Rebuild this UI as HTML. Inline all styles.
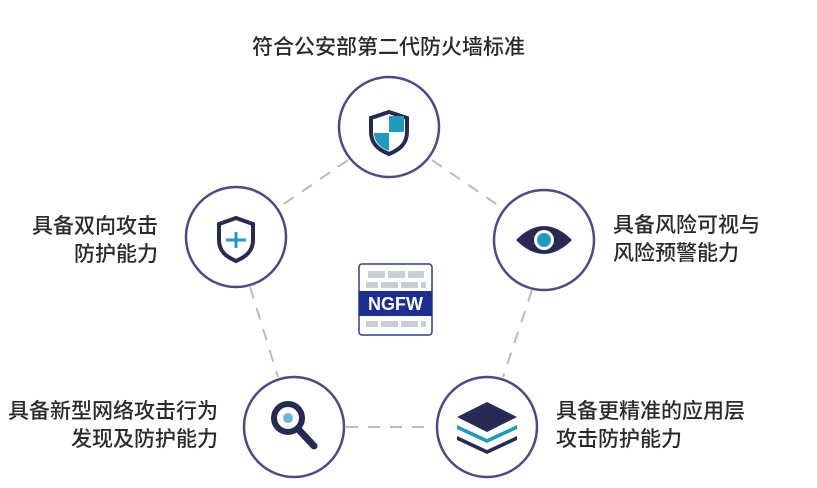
<!DOCTYPE html>
<html><head><meta charset="utf-8"><style>
body{margin:0;width:817px;height:488px;background:#fff;overflow:hidden;position:relative;font-family:"Liberation Sans","Noto Sans CJK SC",sans-serif;color:#2a2a2a}
.t{position:absolute;font-size:21px;line-height:28px;white-space:nowrap;font-weight:500}
</style></head><body>
<svg width="817" height="488" style="position:absolute;left:0;top:0">
<g stroke="#bbb" stroke-width="2" stroke-dasharray="12 10" fill="none">
<line x1="348" y1="160" x2="278" y2="208"/>
<line x1="432" y1="160" x2="502" y2="208"/>
<line x1="250" y1="287" x2="278" y2="377"/>
<line x1="532" y1="290" x2="503" y2="377"/>
<line x1="346" y1="427" x2="434" y2="427"/>
</g>
<g fill="#fff" stroke="#4a4a8a" stroke-width="2.5">
<circle cx="389" cy="127" r="50"/>
<circle cx="236" cy="237" r="50"/>
<circle cx="544" cy="240" r="50"/>
<circle cx="294" cy="427" r="50"/>
<circle cx="487" cy="427" r="50"/>
</g>
<path d="M389 112 l18 6 v14 c0 12 -8 18 -18 22 c-10 -4 -18 -10 -18 -22 v-14 z" fill="#fff" stroke="#262a55" stroke-width="4"/>
<path d="M389 116 h15 v16 h-15z M374 133 h15 v18 c-8 -3 -15 -9 -15 -18z" fill="#1f9bc0"/>
<path d="M236 218 l17 6 v16 c0 12 -8 17 -17 21 c-9 -4 -17 -9 -17 -21 v-16 z" fill="#fff" stroke="#262a55" stroke-width="4"/>
<path d="M226 240 h20 M236 232 v16" stroke="#1f9bc0" stroke-width="3"/>
<path d="M516 240 q28 -28 56 0 q-28 28 -56 0z" fill="#262a55"/>
<circle cx="544" cy="240" r="10" fill="#fff"/>
<circle cx="544" cy="240" r="7" fill="#1f9bc0"/>
<circle cx="288" cy="418" r="14" fill="#fff" stroke="#262a55" stroke-width="6"/>
<line x1="299" y1="430" x2="314" y2="446" stroke="#262a55" stroke-width="7" stroke-linecap="round"/>
<circle cx="288" cy="418" r="5" fill="#6ab8d6"/>
<path d="M487 402 l30 15 l-30 15 l-30 -15z" fill="#262a55"/>
<path d="M457 425 l30 14 l30 -14 v4 l-30 14 l-30 -14z" fill="#1f9bc0"/>
<path d="M457 436 l30 14 l30 -14 v4 l-30 14 l-30 -14z" fill="#262a55"/>
<rect x="359" y="264" width="73" height="71" rx="3" fill="#fff" stroke="#2a3f9a" stroke-width="1.5"/>
<g fill="#c8cdd8">
<rect x="368" y="271" width="17" height="7"/><rect x="388" y="271" width="17" height="7"/><rect x="408" y="271" width="16" height="7"/>
<rect x="366" y="282" width="12" height="6"/><rect x="381" y="282" width="17" height="6"/><rect x="401" y="282" width="17" height="6"/><rect x="421" y="282" width="5" height="6"/>
<rect x="366" y="321" width="12" height="6"/><rect x="381" y="321" width="17" height="6"/><rect x="401" y="321" width="17" height="6"/><rect x="421" y="321" width="5" height="6"/>
</g>
<rect x="359" y="291" width="73" height="25" fill="#1c2d94"/>
<text x="395.5" y="310" text-anchor="middle" fill="#fff" font-family="Liberation Sans,sans-serif" font-weight="bold" font-size="18">NGFW</text>
</svg>
<div class="t" style="left:252px;top:34px">符合公安部第二代防火墙标准</div>
<div class="t" style="right:659px;top:213px;text-align:right">具备双向攻击<br>防护能力</div>
<div class="t" style="left:613px;top:212px">具备风险可视与<br>风险预警能力</div>
<div class="t" style="right:599px;top:398px;text-align:right">具备新型网络攻击行为<br>发现及防护能力</div>
<div class="t" style="left:556px;top:398px">具备更精准的应用层<br>攻击防护能力</div>
</body></html>
